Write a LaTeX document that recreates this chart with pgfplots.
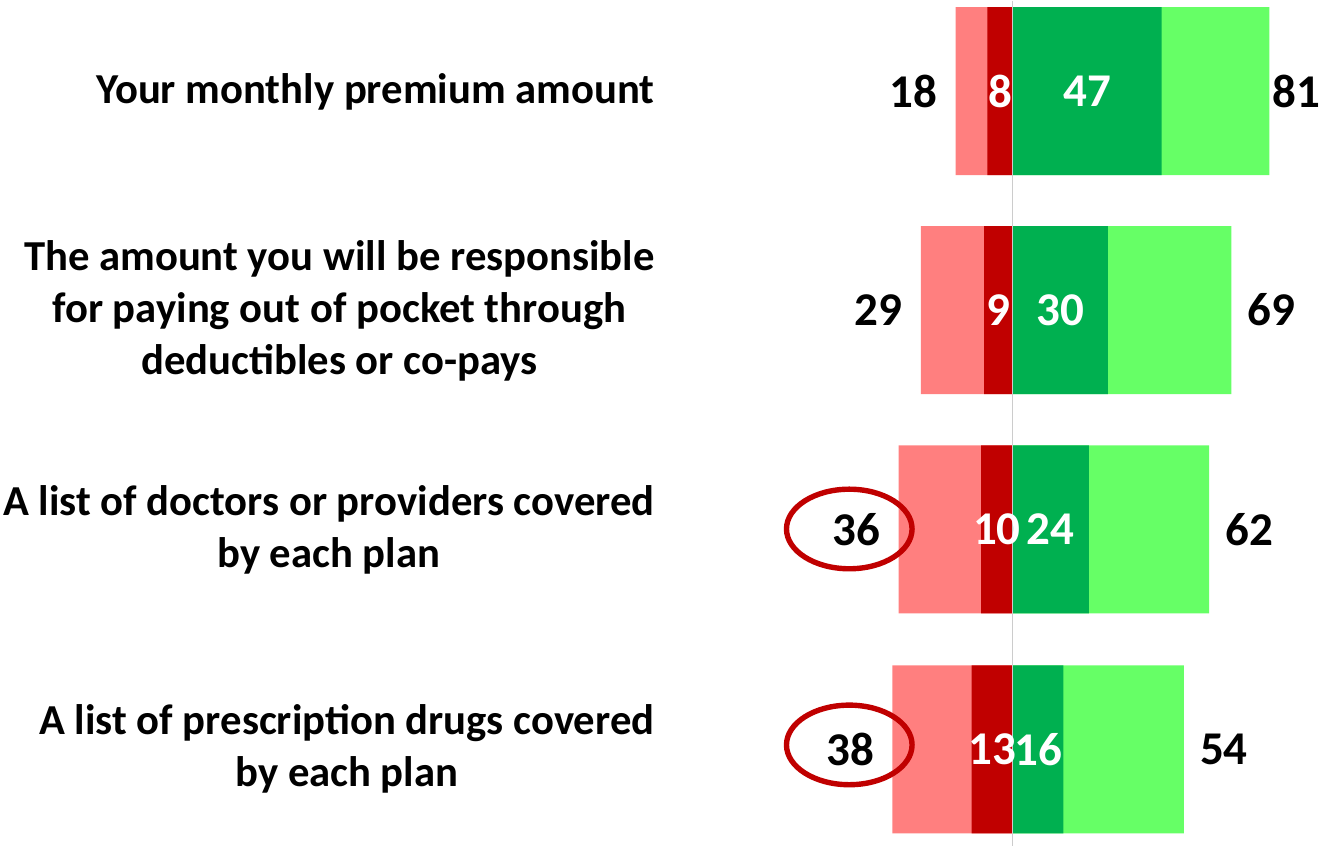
\documentclass[border=0pt]{standalone}
\usepackage{pgfplots}
\pgfplotsset{compat=1.18}
\usepackage{pgfplotstable}
\usepackage{fontspec}
\setmainfont{Carlito}
\definecolor{lred}{HTML}{FF7F7F}
\definecolor{dred}{HTML}{C00000}
\definecolor{dgreen}{HTML}{00B050}
\definecolor{lgreen}{HTML}{66FF66}
\pgfplotstableread{
y lt ld rd rt rlx
90.5 18 8 47 81 81.8
309.5 29 9 30 69 74
529 36 10 24 62 67
749 38 13 16 54 59
}\data
\newcommand{\numfont}{\fontsize{23.5}{28}\selectfont\bfseries}
\newcommand{\labfont}{\fontsize{21.35}{26}\selectfont\bfseries}
\begin{document}
\begin{tikzpicture}
\begin{axis}[scale only axis, width=660pt, height=423pt,
  xmin=-319.56, xmax=96.85, ymin=0, ymax=846, y dir=reverse,
  hide axis, clip=false]
\path (rel axis cs:0,0) rectangle (rel axis cs:1,1);
\addplot[xbar, bar shift=0pt, bar width=168, fill=lred, draw=none] table[x expr=-\thisrow{lt}, y=y]{\data};
\addplot[xbar, bar shift=0pt, bar width=168, fill=dred, draw=none] table[x expr=-\thisrow{ld}, y=y]{\data};
\addplot[xbar, bar shift=0pt, bar width=168, fill=lgreen, draw=none] table[x=rt, y=y]{\data};
\addplot[xbar, bar shift=0pt, bar width=168, fill=dgreen, draw=none] table[x=rd, y=y]{\data};
\addplot[black!20, line width=0.6pt] coordinates {(0,0) (0,846)};
% totals
\addplot[draw=none, mark=none, nodes near coords, point meta=explicit symbolic,
  nodes near coords style={anchor=east, font=\numfont, text=black, inner sep=0pt}]
  table[x expr=-\thisrow{lt}-5.7, y=y, meta=lt]{\data};
\addplot[draw=none, mark=none, nodes near coords, point meta=explicit symbolic,
  nodes near coords style={anchor=west, font=\numfont, text=black, inner sep=0pt}]
  table[x=rlx, y=y, meta=rt]{\data};
% inner values
\addplot[draw=none, mark=none, nodes near coords, point meta=explicit symbolic,
  nodes near coords style={anchor=center, font=\numfont, text=white, inner sep=0pt}]
  table[x expr=-\thisrow{ld}/2, y=y, meta=ld]{\data};
\addplot[draw=none, mark=none, nodes near coords, point meta=explicit symbolic,
  nodes near coords style={anchor=center, font=\numfont, text=white, inner sep=0pt}]
  table[x expr=\thisrow{rd}/2, y=y, meta=rd]{\data};
% category labels
\node[anchor=east, align=center, font=\labfont, inner sep=0pt] at (axis cs:-112.9,91) {Your monthly premium amount};
\node[anchor=east, align=center, font=\labfont, inner sep=0pt] at (axis cs:-112.9,310) {The amount you will be responsible\\for paying out of pocket through\\deductibles or co-pays};
\node[anchor=east, align=center, font=\labfont, inner sep=0pt] at (axis cs:-112.9,529) {A list of doctors or providers covered\\by each plan};
\node[anchor=east, align=center, font=\labfont, inner sep=0pt] at (axis cs:-112.9,748) {A list of prescription drugs covered\\by each plan};
% highlight ellipses
\draw[dred, line width=2.7pt] (axis cs:-51.58,528.5) ellipse [x radius=31.4pt, y radius=19.9pt];
\draw[dred, line width=2.7pt] (axis cs:-51.58,744.5) ellipse [x radius=31.4pt, y radius=19.9pt];
\end{axis}
\end{tikzpicture}
\end{document}
